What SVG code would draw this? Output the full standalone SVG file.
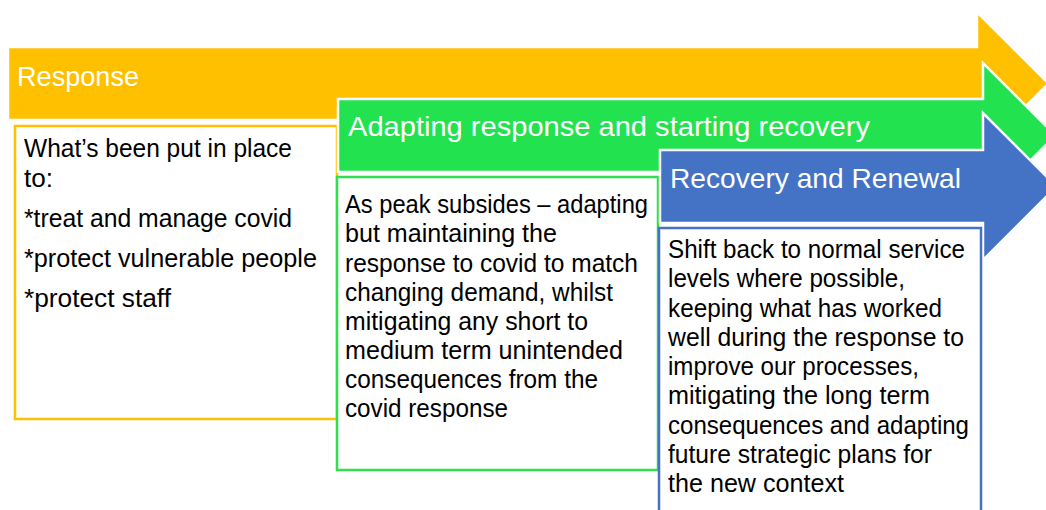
<svg xmlns="http://www.w3.org/2000/svg" width="1046" height="510" viewBox="0 0 1046 510">
<style>
.title{font-family:"Liberation Sans",Arial,sans-serif;font-size:28px;fill:#ffffff}
.body{font-family:"Liberation Sans",Arial,sans-serif;font-size:25px;fill:#000000}
.box{fill:#ffffff;stroke-width:2.5}
.arrow{stroke:#ffffff;stroke-width:2.5;stroke-linejoin:miter}
</style>
<rect width="1046" height="510" fill="#ffffff"/>
<g id="response">
<path class="arrow" d="M8,47 H977 V12 L1048.5,83.5 L977,155 V120 H8 Z" fill="#FFC000" stroke="none"/>
<text class="title" x="17" y="86" textLength="122" lengthAdjust="spacingAndGlyphs">Response</text>
<rect class="box" x="15" y="126" width="322" height="293" stroke="#FFC000"/>
<text class="body" x="24" y="157" textLength="268" lengthAdjust="spacingAndGlyphs">What’s been put in place</text>
<text class="body" x="24" y="187" textLength="29" lengthAdjust="spacingAndGlyphs">to:</text>
<text class="body" x="24" y="227" textLength="268" lengthAdjust="spacingAndGlyphs">*treat and manage covid</text>
<text class="body" x="24" y="267" textLength="293" lengthAdjust="spacingAndGlyphs">*protect vulnerable people</text>
<text class="body" x="24" y="307" textLength="147" lengthAdjust="spacingAndGlyphs">*protect staff</text>
</g>
<g id="adapting">
<path class="arrow" d="M338,99 H983 V63 L1055.5,135.5 L983,208 V172 H338 Z" fill="#23E250"/>
<text class="title" x="348" y="136" textLength="522" lengthAdjust="spacingAndGlyphs">Adapting response and starting recovery</text>
<rect class="box" x="337" y="177" width="321" height="293" stroke="#2EE04A"/>
<text class="body" x="345" y="213" textLength="303" lengthAdjust="spacingAndGlyphs">As peak subsides – adapting</text>
<text class="body" x="345" y="242" textLength="212" lengthAdjust="spacingAndGlyphs">but maintaining the</text>
<text class="body" x="345" y="272" textLength="293" lengthAdjust="spacingAndGlyphs">response to covid to match</text>
<text class="body" x="345" y="301" textLength="268" lengthAdjust="spacingAndGlyphs">changing demand, whilst</text>
<text class="body" x="345" y="330" textLength="243" lengthAdjust="spacingAndGlyphs">mitigating any short to</text>
<text class="body" x="345" y="359" textLength="278" lengthAdjust="spacingAndGlyphs">medium term unintended</text>
<text class="body" x="345" y="388" textLength="253" lengthAdjust="spacingAndGlyphs">consequences from the</text>
<text class="body" x="345" y="417" textLength="163" lengthAdjust="spacingAndGlyphs">covid response</text>
</g>
<g id="recovery">
<path class="arrow" d="M660,150 H983 V113 L1056.5,186.5 L983,260 V223 H660 Z" fill="#4472C4"/>
<text class="title" x="670" y="188" textLength="291" lengthAdjust="spacingAndGlyphs">Recovery and Renewal</text>
<rect class="box" x="659" y="228" width="322" height="300" stroke="#4472C4"/>
<text class="body" x="668" y="258" textLength="297" lengthAdjust="spacingAndGlyphs">Shift back to normal service</text>
<text class="body" x="668" y="287" textLength="237" lengthAdjust="spacingAndGlyphs">levels where possible,</text>
<text class="body" x="668" y="317" textLength="274" lengthAdjust="spacingAndGlyphs">keeping what has worked</text>
<text class="body" x="668" y="346" textLength="296" lengthAdjust="spacingAndGlyphs">well during the response to</text>
<text class="body" x="668" y="375" textLength="251" lengthAdjust="spacingAndGlyphs">improve our processes,</text>
<text class="body" x="668" y="404" textLength="262" lengthAdjust="spacingAndGlyphs">mitigating the long term</text>
<text class="body" x="668" y="434" textLength="301" lengthAdjust="spacingAndGlyphs">consequences and adapting</text>
<text class="body" x="668" y="463" textLength="264" lengthAdjust="spacingAndGlyphs">future strategic plans for</text>
<text class="body" x="668" y="492" textLength="176" lengthAdjust="spacingAndGlyphs">the new context</text>
</g>
</svg>
